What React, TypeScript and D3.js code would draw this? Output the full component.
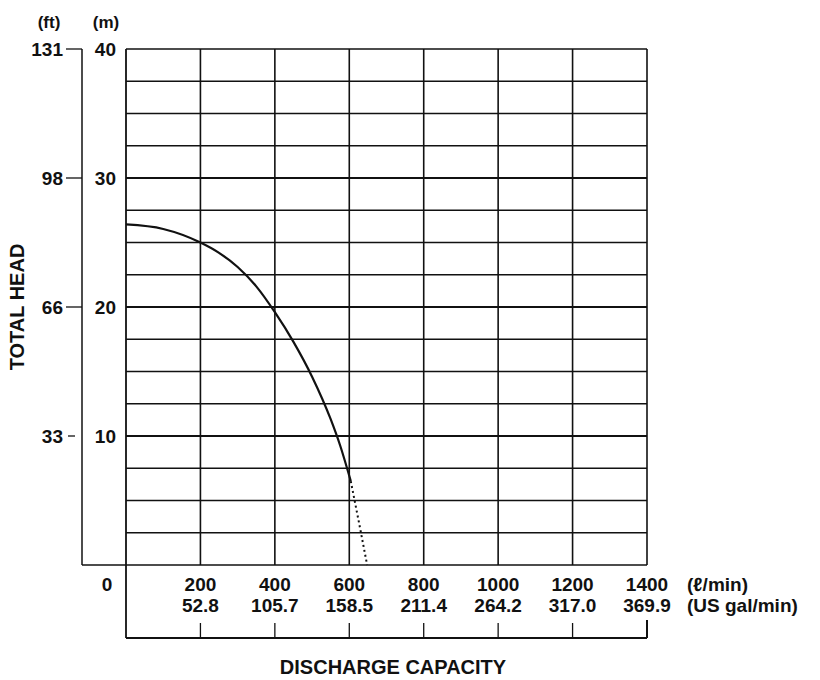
import React from "react";
import * as d3 from "d3";

const curveFlow = [0, 100, 200, 250, 300, 350, 400, 450, 500, 550, 575, 604];
const curveHead = [26.4, 26.05, 25.0, 24.2, 23.1, 21.6, 19.6, 17.3, 14.6, 11.3, 9.3, 6.5];
const dotFlow = [604, 626, 648];
const dotHead = [6.5, 3.3, 0];

const lpmTicks = [200, 400, 600, 800, 1000, 1200, 1400];
const galLabels = ["52.8", "105.7", "158.5", "211.4", "264.2", "317.0", "369.9"];
const mTicks = [10, 20, 30, 40];
const ftLabels = ["33", "66", "98", "131"];
const gridH = d3.range(2.5, 40, 2.5);
const gridV = [200, 400, 600, 800, 1000, 1200];

const W = 820;
const H = 680;
const FONT = "'Liberation Sans', Arial, Helvetica, sans-serif";

export default function App() {
  const x = d3.scaleLinear().domain([0, 1400]).range([126, 647]);
  const y = d3.scaleLinear().domain([0, 40]).range([565, 49]);
  const line = d3
    .line<[number, number]>()
    .x((d) => x(d[0]))
    .y((d) => y(d[1]))
    .curve(d3.curveMonotoneX);
  const solid: [number, number][] = curveFlow.map((f, i) => [f, curveHead[i]]);
  const dotted: [number, number][] = dotFlow.map((f, i) => [f, dotHead[i]]);
  const dotLine = d3
    .line<[number, number]>()
    .x((d) => x(d[0]))
    .y((d) => y(d[1]));

  const ftX = 82;
  const axis2Y = 638;
  const stroke = "#111";

  return (
    <svg
      width={W}
      height={H}
      style={{ position: "absolute", left: 0, top: 0, background: "#fff" }}
      fontFamily={FONT}
      fontWeight="bold"
    >
      <rect width={W} height={H} fill="#fff" />
      {gridH.map((v) => (
        <line
          key={"h" + v}
          x1={x(0)}
          x2={x(1400)}
          y1={y(v)}
          y2={y(v)}
          stroke={stroke}
          strokeWidth={v % 10 === 0 ? 2 : 1.3}
        />
      ))}
      {gridV.map((v) => (
        <line
          key={"v" + v}
          x1={x(v)}
          x2={x(v)}
          y1={y(40)}
          y2={y(0)}
          stroke={stroke}
          strokeWidth={1.6}
        />
      ))}
      <line x1={x(0)} x2={x(1400)} y1={y(40)} y2={y(40)} stroke={stroke} strokeWidth={1.6} />
      <line x1={x(1400)} x2={x(1400)} y1={y(40)} y2={y(0)} stroke={stroke} strokeWidth={1.6} />
      <line x1={ftX} x2={x(1400)} y1={y(0)} y2={y(0)} stroke={stroke} strokeWidth={1.6} />
      <line x1={x(0)} x2={x(0)} y1={y(40)} y2={axis2Y} stroke={stroke} strokeWidth={1.8} />

      <line x1={ftX} x2={ftX} y1={y(40)} y2={y(0)} stroke={stroke} strokeWidth={1.5} />
      {mTicks.map((m, i) => (
        <g key={"ft" + m}>
          <line x1={m === 10 ? 68 : 66} x2={m === 10 ? 75 : ftX} y1={y(m)} y2={y(m)} stroke={stroke} strokeWidth={1.3} />
          <text x={63} y={y(m)} dy="0.36em" textAnchor="end" fontSize={19} fill={stroke}>
            {ftLabels[i]}
          </text>
          <text x={116} y={y(m)} dy="0.36em" textAnchor="end" fontSize={19} fill={stroke}>
            {m}
          </text>
        </g>
      ))}
      <text x={49} y={22} dy="0.36em" textAnchor="middle" fontSize={17} fill={stroke}>
        (ft)
      </text>
      <text x={106} y={22} dy="0.36em" textAnchor="middle" fontSize={17} fill={stroke}>
        (m)
      </text>
      <text
        transform={`translate(17,${y(20)}) rotate(-90)`}
        textAnchor="middle"
        dy="0.36em"
        fontSize={20}
        fill={stroke}
      >
        TOTAL HEAD
      </text>

      <path d={line(solid) || ""} fill="none" stroke={stroke} strokeWidth={2.2} />
      <path d={dotLine(dotted) || ""} fill="none" stroke={stroke} strokeWidth={2} strokeDasharray="2,3" />

      <text x={107} y={584} dy="0.36em" textAnchor="middle" fontSize={19} fill={stroke}>
        0
      </text>
      {lpmTicks.map((v, i) => (
        <g key={"b" + v}>
          <text x={x(v)} y={584} dy="0.36em" textAnchor="middle" fontSize={19} fill={stroke}>
            {v}
          </text>
          <text x={x(v)} y={605} dy="0.36em" textAnchor="middle" fontSize={19} fill={stroke}>
            {galLabels[i]}
          </text>
          <line
            x1={x(v)}
            x2={x(v)}
            y1={v === 1400 ? 620 : 623}
            y2={axis2Y}
            stroke={stroke}
            strokeWidth={v === 1400 ? 2 : 1.3}
          />
        </g>
      ))}
      <line x1={x(0)} x2={x(1400)} y1={axis2Y} y2={axis2Y} stroke={stroke} strokeWidth={2} />
      <text x={687} y={584} dy="0.36em" fontSize={19} fill={stroke}>
        (ℓ/min)
      </text>
      <text x={687} y={605} dy="0.36em" fontSize={19} fill={stroke}>
        (US gal/min)
      </text>
      <text x={393} y={667} dy="0.36em" textAnchor="middle" fontSize={20} fill={stroke}>
        DISCHARGE CAPACITY
      </text>
    </svg>
  );
}
